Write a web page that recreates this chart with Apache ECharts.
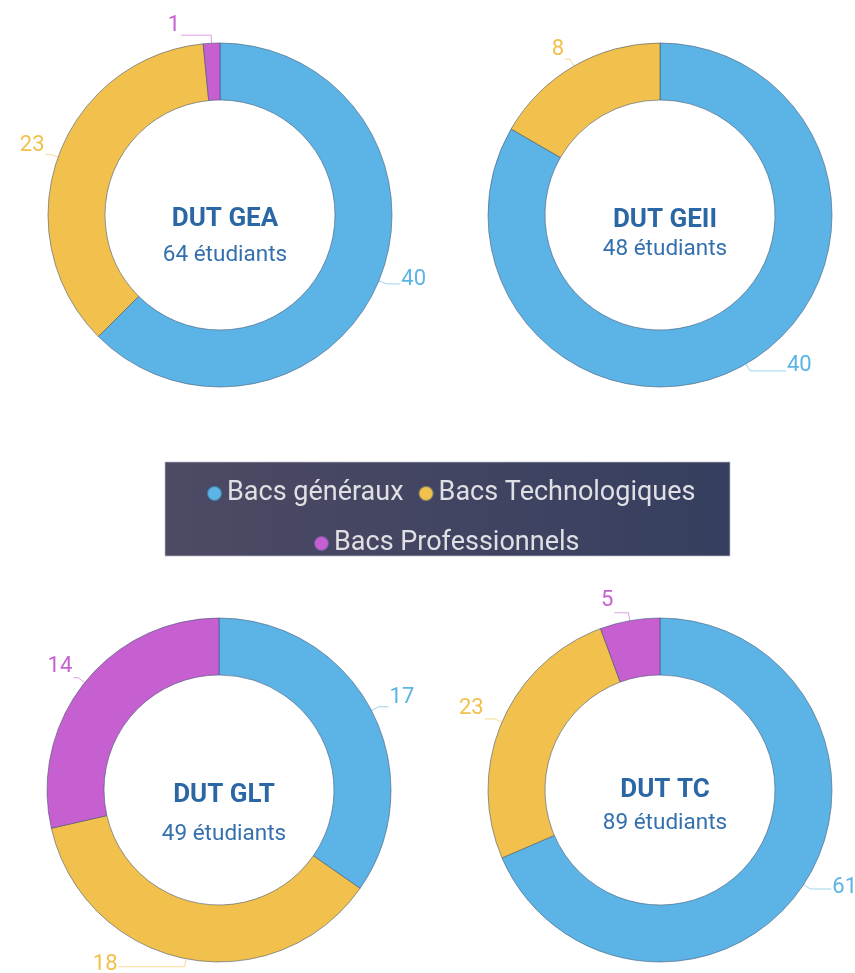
<!DOCTYPE html>
<html>
<head>
<meta charset="utf-8">
<script src="https://cdn.jsdelivr.net/npm/echarts@6/dist/echarts.min.js"></script>
<style>
  html, body { margin: 0; padding: 0; background: #fff; }
  #main { width: 855px; height: 973px; }
</style>
</head>
<body>
<div id="main"></div>
<script>
// données
var categories = ['Bacs généraux', 'Bacs Technologiques', 'Bacs Professionnels'];
var colors = ['#5bb4e5', '#f1c04d', '#c65fd0'];
var formations = ['DUT GEA', 'DUT GEII', 'DUT GLT', 'DUT TC'];
var effectifs = ['64 étudiants', '48 étudiants', '49 étudiants', '89 étudiants'];
var gea = [40, 23, 1];
var geii = [40, 8, 0];
var glt = [17, 18, 14];
var tc = [61, 23, 5];

var values = [gea, geii, glt, tc];

// mise en page
var centers = [[220, 215], [660, 215], [219, 790], [660, 790]];
var titleTops = [201, 202, 777, 772];
var titleGaps = [12, 5, 15, 9];
// réglages des étiquettes, par donut et par catégorie
var labelLen2 = [[14, 5, 30], [36, 5, 10], [10, 66, 5], [21, 10, 14]];
var labelLift = [[4, 9, 10], [5, 10, 0], [9, 2, 11], [2, 10, 12]];

function buildSeries(i) {
    var data = [];
    for (var k = 0; k < categories.length; k++) {
        if (!values[i][k]) continue;
        data.push({
            name: categories[k],
            value: values[i][k],
            itemStyle: { color: colors[k] },
            label: {
                color: colors[k],
                rich: {
                    v: { fontSize: 22, fontFamily: 'Roboto', color: colors[k] },
                    e: { fontSize: 1, lineHeight: labelLift[i][k] * 2 }
                }
            },
            labelLine: { length2: labelLen2[i][k] }
        });
    }
    return {
        name: formations[i],
        type: 'pie',
        radius: [115, 172],
        center: centers[i],
        startAngle: 90,
        avoidLabelOverlap: false,
        itemStyle: {
            borderColor: 'rgba(60,80,110,0.55)',
            borderWidth: 1
        },
        label: {
            show: true,
            position: 'outside',
            formatter: '{v|{c}}\n{e| }',
            fontSize: 22,
            fontFamily: 'Roboto',
            distanceToLabelLine: 1
        },
        labelLine: {
            length: 8,
            length2: 12,
            lineStyle: { width: 1, opacity: 0.6 }
        },
        emphasis: { disabled: true },
        data: data
    };
}

// position gauche d'une ligne de légende centrée sur cx
var ctx = document.createElement('canvas').getContext('2d');
function legendLeft(names, fontSize, iconW, gap, cx) {
    ctx.font = fontSize + 'px Roboto';
    var w = 0;
    for (var n = 0; n < names.length; n++) {
        w += iconW + 5 + ctx.measureText(names[n]).width;
        if (n > 0) w += gap;
    }
    return Math.round(cx - w / 2);
}

var myChart = echarts.init(document.getElementById('main'));
var series = [];
var titles = [];
for (var i = 0; i < formations.length; i++) {
    series.push(buildSeries(i));
    titles.push({
        text: formations[i],
        subtext: effectifs[i],
        left: centers[i][0],
        top: titleTops[i],
        textAlign: 'center',
        itemGap: titleGaps[i],
        textStyle: {
            fontFamily: 'Roboto',
            fontSize: 26,
            fontWeight: 'bold',
            color: '#2b67a4'
        },
        subtextStyle: {
            fontFamily: 'Roboto',
            fontSize: 22.5,
            color: '#3470ae'
        }
    });
}

var legendFont = 27;
var legendText = { fontFamily: 'Roboto', fontSize: legendFont, color: '#e0e0e4' };
var row1 = categories.slice(0, 2);
var row2 = categories.slice(2);

var option = {
    backgroundColor: '#ffffff',
    animation: false,
    title: titles,
    graphic: [{
        type: 'rect',
        z: -1,
        shape: { x: 165, y: 462, width: 565, height: 94 },
        style: {
            fill: new echarts.graphic.LinearGradient(0, 0, 1, 0, [
                { offset: 0, color: '#4d4a64' },
                { offset: 1, color: '#363f5f' }
            ]),
            stroke: 'rgba(190,190,200,0.7)',
            lineWidth: 1
        }
    }],
    legend: [{
        data: row1,
        left: legendLeft(row1, legendFont, 15, 14, 450),
        top: 480,
        padding: 0,
        icon: 'circle',
        itemWidth: 15,
        itemHeight: 15,
        itemGap: 14,
        textStyle: legendText
    }, {
        data: row2,
        left: legendLeft(row2, legendFont, 15, 14, 446),
        top: 530,
        padding: 0,
        icon: 'circle',
        itemWidth: 15,
        itemHeight: 15,
        textStyle: legendText
    }],
    series: series
};
myChart.setOption(option);
</script>
</body>
</html>
